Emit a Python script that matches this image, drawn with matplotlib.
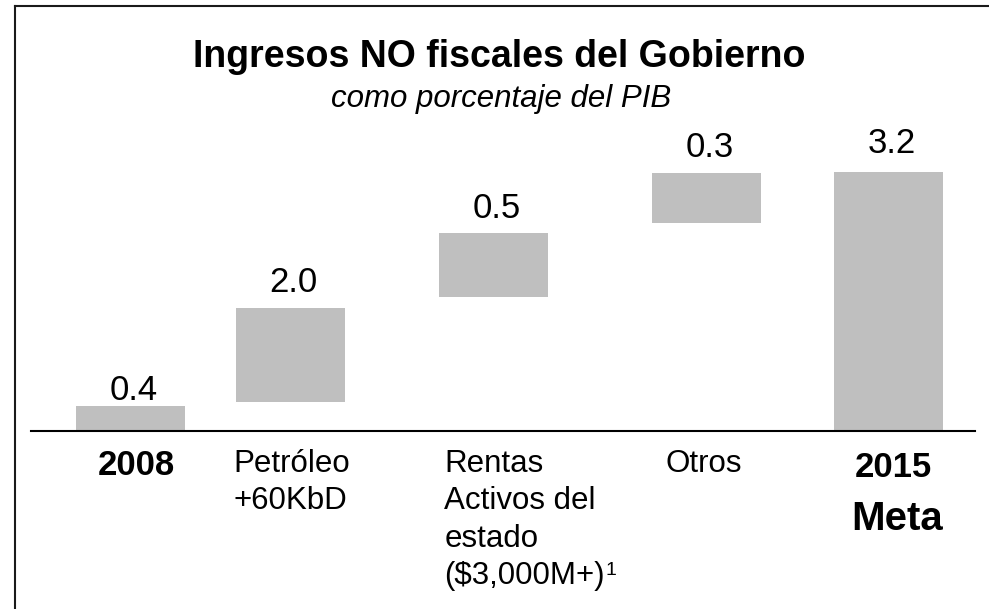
import numpy as np
import matplotlib.pyplot as plt
from matplotlib.lines import Line2D

plt.rcParams['font.family'] = ['Liberation Sans', 'DejaVu Sans']

# Ingresos no fiscales, % del PIB
categorias = ['2008', 'Petróleo\n+60KbD', 'Rentas\nActivos del\nestado\n($3,000M+)', 'Otros', '2015']
valores = [0.4, 2.0, 0.5, 0.3, 3.2]
# extremos de cada barra como aparecen en la lámina (el original no va a escala)
desde = [0.0, 0.36, 1.65, 2.57, 0.0]
hasta = [0.31, 1.52, 2.44, 3.19, 3.2]

# separación irregular de las columnas, igual que en el original
x = np.array([0, 1.0, 2.27, 3.6, 4.74])
ancho = 0.68
interlinea = 26.9  # puntos entre líneas de las etiquetas

fig = plt.figure(figsize=(9.89, 6.09), dpi=100)
ax = fig.add_axes([0.0313, 0.2923, 0.9545, 0.4253])

alturas = np.array(hasta) - np.array(desde)
ax.bar(x, alturas, bottom=desde, width=ancho, color='#bfbfbf', zorder=1)
ax.axhline(0, color='black', lw=1.5, zorder=2, clip_on=False)
ax.set_xlim(-0.622, 5.278)
ax.set_ylim(0, 3.2)
ax.axis('off')

# etiquetas de valor sobre las barras
sep = [4.5, 11.5, 11.5, 11.5, 13.5]
for xi, tope, v, s in zip(x, hasta, valores, sep):
    ax.annotate(f'{v:.1f}', xy=(xi, tope), xytext=(2, s), textcoords='offset points',
                ha='center', va='baseline', fontsize=25)


def etiqueta(xi, texto, dx, dy, **kw):
    lineas = []
    for j, linea in enumerate(texto.split('\n')):
        lineas.append(ax.annotate(linea, xy=(xi, 0), xytext=(dx, dy - j * interlinea),
                                  textcoords='offset points', va='baseline', **kw))
    return lineas


# etiquetas de categoría
etiqueta(x[0], categorias[0], 4, -31.7, ha='center', fontsize=25, fontweight='bold')
etiqueta(x[1] - ancho / 2, categorias[1], -2, -29.5, ha='left', fontsize=22.5)
rentas = etiqueta(x[2] - ancho / 2, categorias[2], 3.5, -29.5, ha='left', fontsize=22.5)
etiqueta(x[3] - ancho / 2, categorias[3], 10, -29.5, ha='left', fontsize=22.5)
etiqueta(x[4], categorias[4], 3, -33, ha='center', fontsize=25, fontweight='bold')
etiqueta(x[4], 'Meta', 6, -71.3, ha='center', fontsize=29, fontweight='bold')

# nota 1 en superíndice
ax.annotate('1', xy=(1, 1), xycoords=rentas[-1], xytext=(0.5, -0.5),
            textcoords='offset points', ha='left', va='top', fontsize=14)

# títulos
fig.text(0.505, 0.890, 'Ingresos NO fiscales del Gobierno', ha='center', va='baseline',
         fontsize=27, fontweight='bold')
fig.text(0.507, 0.824, 'como porcentaje del PIB', ha='center', va='baseline',
         fontsize=22.5, style='italic')

# marco superior e izquierdo
xl = 15.5 / 989
yt = 1 - 5.5 / 609
fig.add_artist(Line2D([xl, xl], [0, yt], color='#1a1a1a', lw=1.5))
fig.add_artist(Line2D([xl, 1], [yt, yt], color='#1a1a1a', lw=1.5))

fig.savefig('out.png', dpi=100)
